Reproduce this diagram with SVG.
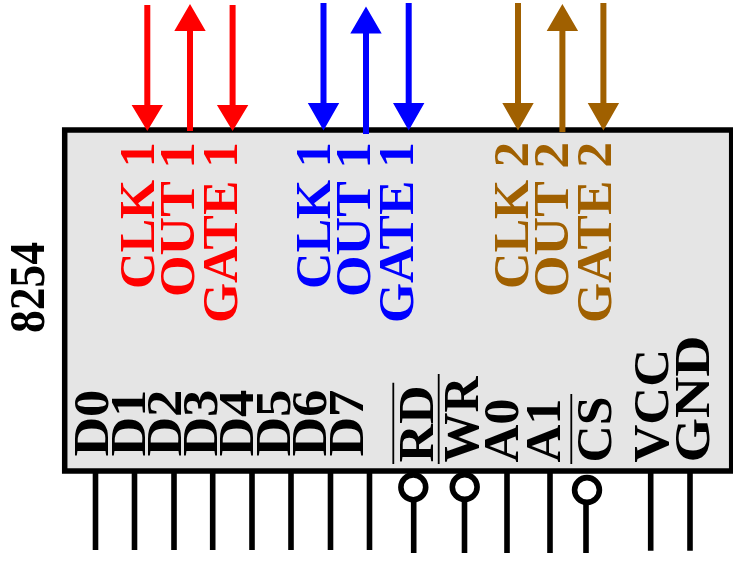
<svg xmlns="http://www.w3.org/2000/svg" width="733" height="562" viewBox="0 0 733 562">
<style>
text{font-family:"Liberation Serif","Times New Roman",serif;font-weight:700;font-size:51px;text-anchor:start}
.k{fill:#000}.r{fill:#f00}.b{fill:#00f}.o{fill:#a06000}
.pin{stroke:#000;stroke-width:5.6;fill:none}
.bub{stroke:#000;stroke-width:5.6;fill:#fff}
.bar{stroke:#000;stroke-width:1.8;fill:none}
.lr{stroke:#f00;stroke-width:6;fill:none}.lb{stroke:#00f;stroke-width:6;fill:none}.lo{stroke:#a06000;stroke-width:6;fill:none}
</style>
<g id="chip">
<rect x="64.7" y="130" width="667" height="341" fill="#e5e5e5" stroke="#000" stroke-width="5.5"/>
<text class="k" transform="translate(44,333) rotate(-90)" textLength="91" lengthAdjust="spacingAndGlyphs">8254</text>
</g>
<g id="connectors">
<path class="lr" d="M147.3 5V108M190 29V131M232.6 5V108"/>
<path fill="#f00" d="M131.6 105H163L147.3 131ZM174.3 31H205.7L190 4ZM216.9 105H248.3L232.6 131Z"/>
<path class="lb" d="M323.5 3V106M366 31V134M408.7 3V106"/>
<path fill="#00f" d="M307.8 103H339.2L323.5 130.5ZM350.3 33.5H381.7L366 6.5ZM393 103H424.4L408.7 130.5Z"/>
<path class="lo" d="M518 3V106M562.4 29V132M603.4 3V106"/>
<path fill="#a06000" d="M502.3 103H533.7L518 130.5ZM546.7 31H578.1L562.4 4ZM587.7 103H619.1L603.4 130.5Z"/>
<path class="pin" d="M95.5 473V550M134.5 473V550M174 473V550M212.7 473V550M252 473V550M291 473V550M330.5 473V550M369.5 473V550M413.7 500V553M464.5 500V553M507 473V553M550 473V553M586 503V553M650.7 473V550.7M690 473V550.7"/>
<circle class="bub" cx="413.3" cy="487.3" r="12.4"/>
<circle class="bub" cx="464.7" cy="487" r="12.4"/>
<circle class="bub" cx="587" cy="490" r="12.4"/>
<path class="bar" d="M393.3 382.7V464M438.7 374V464M571.3 394V464"/>
</g>
<g id="labels-counter-0">
<text class="r" transform="translate(154,289) rotate(-90)" textLength="147" lengthAdjust="spacingAndGlyphs">CLK 1</text>
<text class="r" transform="translate(194.3,297) rotate(-90)" textLength="155" lengthAdjust="spacingAndGlyphs">OUT 1</text>
<text class="r" transform="translate(237.3,323) rotate(-90)" textLength="181" lengthAdjust="spacingAndGlyphs">GATE 1</text>
</g>
<g id="labels-counter-1">
<text class="b" transform="translate(330,289) rotate(-90)" textLength="147" lengthAdjust="spacingAndGlyphs">CLK 1</text>
<text class="b" transform="translate(370,297) rotate(-90)" textLength="155" lengthAdjust="spacingAndGlyphs">OUT 1</text>
<text class="b" transform="translate(413.3,323) rotate(-90)" textLength="181" lengthAdjust="spacingAndGlyphs">GATE 1</text>
</g>
<g id="labels-counter-2">
<text class="o" transform="translate(527.7,289) rotate(-90)" textLength="147" lengthAdjust="spacingAndGlyphs">CLK 2</text>
<text class="o" transform="translate(568,297) rotate(-90)" textLength="155" lengthAdjust="spacingAndGlyphs">OUT 2</text>
<text class="o" transform="translate(610.7,323) rotate(-90)" textLength="181" lengthAdjust="spacingAndGlyphs">GATE 2</text>
</g>
<g id="labels-data">
<text class="k" transform="translate(108,456.5) rotate(-90)" textLength="67" lengthAdjust="spacingAndGlyphs">D0</text>
<text class="k" transform="translate(144.5,456.5) rotate(-90)" textLength="67" lengthAdjust="spacingAndGlyphs">D1</text>
<text class="k" transform="translate(180.5,456.5) rotate(-90)" textLength="67" lengthAdjust="spacingAndGlyphs">D2</text>
<text class="k" transform="translate(217,456.5) rotate(-90)" textLength="67" lengthAdjust="spacingAndGlyphs">D3</text>
<text class="k" transform="translate(253,456.5) rotate(-90)" textLength="67" lengthAdjust="spacingAndGlyphs">D4</text>
<text class="k" transform="translate(290,456.5) rotate(-90)" textLength="67" lengthAdjust="spacingAndGlyphs">D5</text>
<text class="k" transform="translate(326,456.5) rotate(-90)" textLength="67" lengthAdjust="spacingAndGlyphs">D6</text>
<text class="k" transform="translate(363,456.5) rotate(-90)" textLength="67" lengthAdjust="spacingAndGlyphs">D7</text>
</g>
<g id="labels-control">
<text class="k" transform="translate(433,462.5) rotate(-90)" textLength="77" lengthAdjust="spacingAndGlyphs">RD</text>
<text class="k" transform="translate(477.7,462.5) rotate(-90)" textLength="86" lengthAdjust="spacingAndGlyphs">WR</text>
<text class="k" transform="translate(517.7,462.5) rotate(-90)" textLength="64" lengthAdjust="spacingAndGlyphs">A0</text>
<text class="k" transform="translate(560,462.5) rotate(-90)" textLength="64" lengthAdjust="spacingAndGlyphs">A1</text>
<text class="k" transform="translate(610.7,462.5) rotate(-90)" textLength="66" lengthAdjust="spacingAndGlyphs">CS</text>
<text class="k" transform="translate(668,462.5) rotate(-90)" textLength="113.5" lengthAdjust="spacingAndGlyphs">VCC</text>
<text class="k" transform="translate(709,462.5) rotate(-90)" textLength="127" lengthAdjust="spacingAndGlyphs">GND</text>
</g>
</svg>
